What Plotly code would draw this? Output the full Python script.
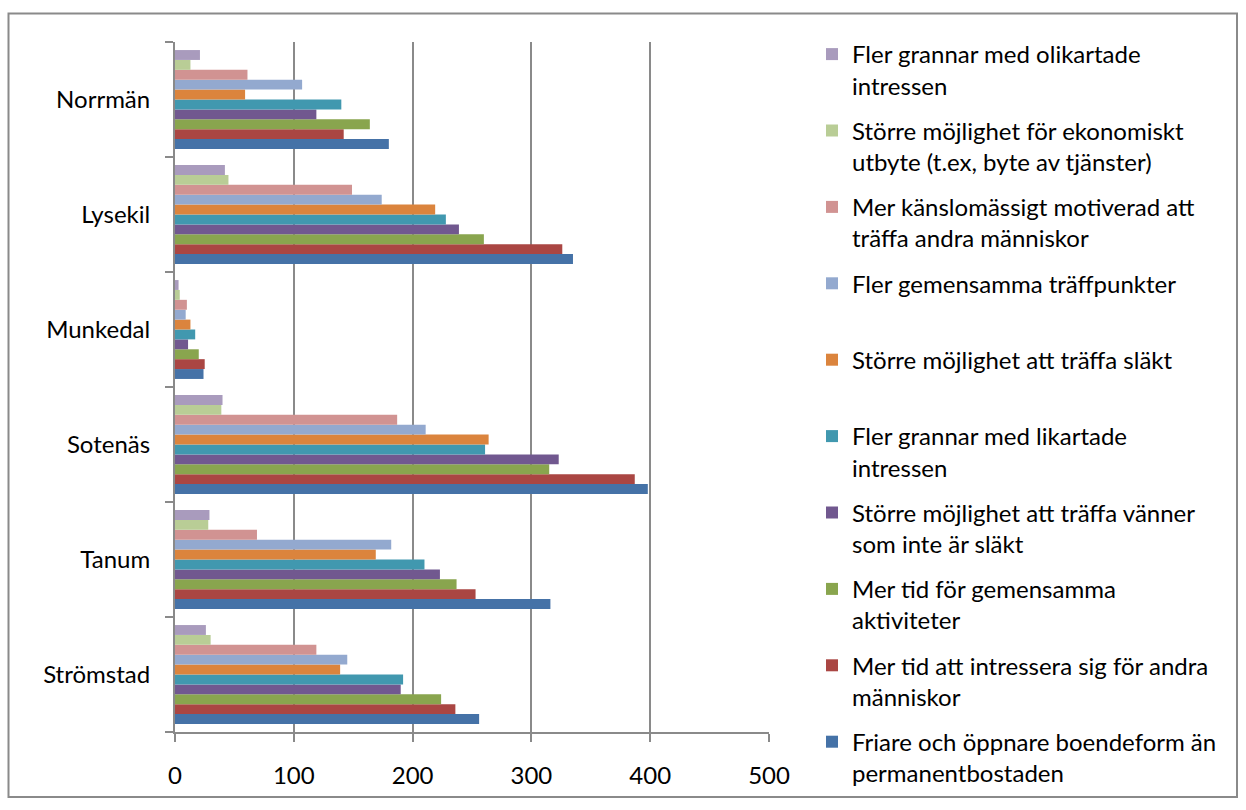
import plotly.graph_objects as go

categories = ["Strömstad", "Tanum", "Sotenäs", "Munkedal", "Lysekil", "Norrmän"]

series_names = [
    "Friare och öppnare boendeform än<br>permanentbostaden",
    "Mer tid att intressera sig för andra<br>människor",
    "Mer tid för gemensamma<br>aktiviteter",
    "Större möjlighet att träffa vänner<br>som inte är släkt",
    "Fler grannar med likartade<br>intressen",
    "Större möjlighet att träffa släkt<br>\u00a0",
    "Fler gemensamma träffpunkter<br>\u00a0",
    "Mer känslomässigt motiverad att<br>träffa andra människor",
    "Större möjlighet för ekonomiskt<br>utbyte (t.ex, byte av tjänster)",
    "Fler grannar med olikartade<br>intressen",
]

friare = [256, 316, 398, 24, 335, 180]
intressera = [236, 253, 387, 25, 326, 142]
gemensamma_akt = [224, 237, 315, 20, 260, 164]
vanner = [190, 223, 323, 11, 239, 119]
likartade = [192, 210, 261, 17, 228, 140]
slakt = [139, 169, 264, 13, 219, 59]
traffpunkter = [145, 182, 211, 9, 174, 107]
kanslo = [119, 69, 187, 10, 149, 61]
ekonomiskt = [30, 28, 39, 4, 45, 13]
olikartade = [26, 29, 40, 3, 42, 21]

series_values = [friare, intressera, gemensamma_akt, vanner, likartade,
                 slakt, traffpunkter, kanslo, ekonomiskt, olikartade]

colors = ["#4572A7", "#AA4643", "#89A54E", "#71588F", "#4198AF",
          "#DB843D", "#93A9CF", "#D19392", "#B9CD96", "#A99BBD"]

x_ticks = [0, 100, 200, 300, 400, 500]

FONT = "Lato"
FS = 24
GRAY = "#8A8A8A"

fig = go.Figure()
n = len(series_names)
for i, (name, vals, col) in enumerate(zip(series_names, series_values, colors)):
    fig.add_trace(go.Bar(
        y=categories, x=vals, name=name, orientation="h",
        marker=dict(color=col, line=dict(width=0)),
        legendgroup="g%d" % i, legendrank=n - i,
    ))

L, R, T, B = 175, 477, 42, 78
W, H = 1246, 810
pw, ph = W - L - R, H - T - B

def px_x(p):
    return (p - L) / pw

def px_y(p):
    return (H - B - p) / ph

fig.update_layout(
    width=W, height=H,
    margin=dict(l=L, r=R, t=T, b=B, autoexpand=False),
    paper_bgcolor="white", plot_bgcolor="white",
    barmode="group", bargap=0.14, bargroupgap=0,
    font=dict(family=FONT, size=FS, color="#000000"),
    showlegend=True,
    legend=dict(
        x=px_x(812), xanchor="left",
        y=px_y(32), yanchor="top",
        traceorder="grouped",
        tracegroupgap=11,
        valign="top",
        maxheight=800,
        font=dict(family=FONT, size=FS, color="#000000"),
        bgcolor="rgba(0,0,0,0)",
    ),
    xaxis=dict(
        range=[0, 500], tickvals=x_ticks, ticktext=[str(v) for v in x_ticks],
        showgrid=True, gridcolor=GRAY, gridwidth=2,
        showline=True, linecolor=GRAY, linewidth=2,
        ticks="outside", ticklen=8, tickwidth=2, tickcolor=GRAY,
        ticklabelstandoff=13, zeroline=False,
        tickfont=dict(family=FONT, size=FS, color="#000000"),
        fixedrange=True,
    ),
    yaxis=dict(
        categoryorder="array", categoryarray=categories,
        showgrid=False, showline=True, linecolor=GRAY, linewidth=2,
        ticks="outside", ticklen=8, tickwidth=2, tickcolor=GRAY,
        tickson="boundaries", ticklabelstandoff=18,
        tickfont=dict(family=FONT, size=FS, color="#000000"),
        fixedrange=True,
    ),
    shapes=[dict(
        type="rect", xref="paper", yref="paper",
        x0=px_x(8.5), x1=px_x(1237), y0=px_y(797), y1=px_y(13.5),
        line=dict(color=GRAY, width=2), fillcolor="rgba(0,0,0,0)", layer="above",
    )],
)

fig.write_html("out.html", config={"displayModeBar": False},
               post_script="document.body.style.margin='0';document.body.style.overflow='hidden';")
